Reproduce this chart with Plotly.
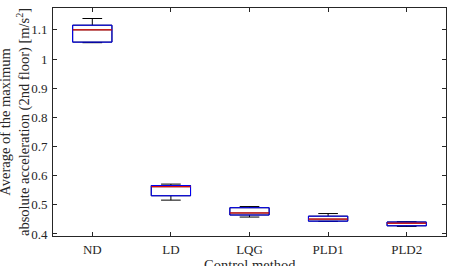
import plotly.graph_objects as go

categories = ["ND", "LD", "LQG", "PLD1", "PLD2"]
q1 = [1.058, 0.531, 0.465, 0.444, 0.428]
median = [1.100, 0.562, 0.472, 0.451, 0.437]
q3 = [1.116, 0.566, 0.490, 0.461, 0.441]
lower = [1.056, 0.516, 0.458, 0.443, 0.426]
upper = [1.139, 0.571, 0.494, 0.470, 0.442]
yticks = [0.4, 0.5, 0.6, 0.7, 0.8, 0.9, 1.0, 1.1]
yticklabels = ["0.4", "0.5", "0.6", "0.7", "0.8", "0.9", "1", "1.1"]
xtitle = "Control method"
ytitle = "Average of the maximum<br>absolute acceleration (2nd floor) [m/s<sup>2</sup>]"

pos = list(range(len(categories)))
hw = 0.25

fig = go.Figure()
fig.add_trace(go.Box(
    x=pos, q1=q1, median=median, q3=q3, lowerfence=lower, upperfence=upper,
    width=0.5, whiskerwidth=0.5, line=dict(color="black", width=1),
    fillcolor="rgba(0,0,0,0)", boxpoints=False, showlegend=False, hoverinfo="skip"))

for i in pos:
    fig.add_trace(go.Scatter(
        x=[i - hw, i + hw, i + hw, i - hw, i - hw],
        y=[q1[i], q1[i], q3[i], q3[i], q1[i]],
        mode="lines", line=dict(color="#0000ff", width=1),
        showlegend=False, hoverinfo="skip"))
    fig.add_trace(go.Scatter(
        x=[i - hw, i + hw], y=[median[i], median[i]],
        mode="lines", line=dict(color="#ff0000", width=1),
        showlegend=False, hoverinfo="skip"))

font_family = "Liberation Serif, Times New Roman, serif"
axis_color = "#262626"
fig.update_layout(
    width=453, height=266,
    margin=dict(l=53, r=7, t=8, b=30),
    paper_bgcolor="white", plot_bgcolor="white",
    font=dict(family=font_family, size=13, color=axis_color),
    annotations=[
        dict(text=xtitle, xref="paper", yref="paper", x=0.5, y=0,
             xanchor="center", yanchor="top", yshift=-19, showarrow=False,
             font=dict(size=14.5, family=font_family, color=axis_color)),
        dict(text=ytitle, xref="paper", yref="paper", x=0, y=0.5,
             xanchor="center", yanchor="middle", xshift=-38, textangle=-90,
             showarrow=False, align="center",
             font=dict(size=14.5, family=font_family, color=axis_color)),
    ],
)
fig.update_xaxes(
    range=[-0.5, 4.5], tickvals=pos, ticktext=categories, automargin=False,
    showline=True, linecolor=axis_color, linewidth=1, mirror="ticks",
    ticks="inside", ticklen=4, tickcolor=axis_color, showgrid=False, zeroline=False,
    tickfont=dict(size=13, family=font_family), ticklabelstandoff=1,
)
fig.update_yaxes(
    range=[0.393, 1.175], tickvals=yticks, ticktext=yticklabels, automargin=False,
    showline=True, linecolor=axis_color, linewidth=1, mirror="ticks",
    ticks="inside", ticklen=4, tickcolor=axis_color, showgrid=False, zeroline=False,
    tickfont=dict(size=13, family=font_family), ticklabelstandoff=2,
)
fig.write_html("out.html")
